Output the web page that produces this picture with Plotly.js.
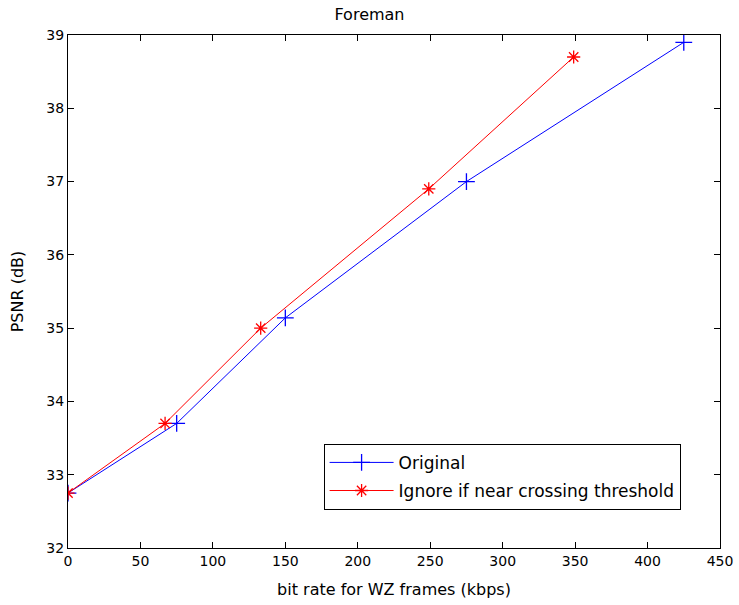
<!DOCTYPE html>
<html>
<head>
<meta charset="utf-8">
<script src="https://cdn.plot.ly/plotly-3.0.1.min.js"></script>
<style>html,body{margin:0;padding:0;background:#fff;}#chart{width:739px;height:605px;}</style>
</head>
<body>
<div id="chart"></div>
<script>
const origX = [0, 75, 150, 275, 425];
const origY = [32.75, 33.7, 35.14, 37.0, 38.9];
const ignX = [0, 67, 133, 249, 349];
const ignY = [32.75, 33.7, 35.0, 36.9, 38.7];
const xTicks = [0, 50, 100, 150, 200, 250, 300, 350, 400, 450];
const yTicks = [32, 33, 34, 35, 36, 37, 38, 39];

const fam = 'DejaVu Sans, Verdana, sans-serif';
const tickFont = {family: fam, size: 14, color: '#000'};
const labelFont = {family: fam, size: 16, color: '#000'};
const traces = [
  {x: origX, y: origY, name: 'Original', type: 'scatter', mode: 'lines+markers', legendgroup: 'a',
   line: {color: '#0000ff', width: 1}, marker: {symbol: 'cross-thin-open', size: 12, color: '#0000ff', line: {color: '#0000ff', width: 1.3}}},
  {x: ignX, y: ignY, name: 'Ignore if near crossing threshold', type: 'scatter', mode: 'lines+markers', legendgroup: 'b',
   line: {color: '#ff0000', width: 1}, marker: {symbol: 'asterisk-open', size: 11, color: '#ff0000', line: {color: '#ff0000', width: 1.3}}}
];
const axisCommon = {showgrid: false, zeroline: false, showline: true, linecolor: '#000', linewidth: 1,
  mirror: 'ticks', ticks: 'inside', ticklen: 6, tickcolor: '#000', tickfont: tickFont};
const layout = {
  width: 739, height: 605,
  margin: {l: 68, r: 19, t: 35, b: 57},
  paper_bgcolor: '#fff', plot_bgcolor: '#fff',
  font: labelFont,
  title: {text: 'Foreman', font: labelFont, x: 0.5, xanchor: 'center', y: 0.985, yanchor: 'top'},
  xaxis: Object.assign({}, axisCommon, {range: [0, 450], tickvals: xTicks, ticktext: xTicks.map(String),
    title: {text: 'bit rate for WZ frames (kbps)', font: labelFont, standoff: 16}}),
  yaxis: Object.assign({}, axisCommon, {range: [32, 39], tickvals: yTicks, ticktext: yTicks.map(String),
    title: {text: 'PSNR (dB)', font: labelFont, standoff: 18}}),
  showlegend: true,
  legend: {x: 0.392, y: 0.203, xanchor: 'left', yanchor: 'top', bordercolor: '#000', borderwidth: 1,
    bgcolor: '#fff', font: {family: fam, size: 17, color: '#000'}, itemwidth: 64,
    traceorder: 'grouped', tracegroupgap: 3}
};
Plotly.newPlot('chart', traces, layout, {displayModeBar: false, staticPlot: true});
</script>
</body>
</html>
